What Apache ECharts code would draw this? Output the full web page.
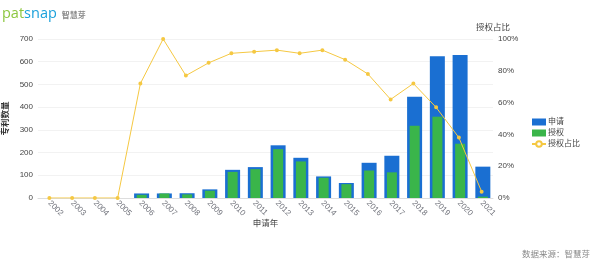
<!DOCTYPE html>
<html><head><meta charset="utf-8">
<script src="https://cdn.jsdelivr.net/npm/echarts@6/dist/echarts.min.js"></script>
<style>html,body{margin:0;padding:0;background:#fff}#c{width:600px;height:264px}</style>
</head><body><div id="c"></div>
<script>
const years = ['2002','2003','2004','2005','2006','2007','2008','2009','2010','2011','2012','2013','2014','2015','2016','2017','2018','2019','2020','2021'];
const applied = [0,0,0,0,20,20,21,38,124,136,232,177,95,66,155,186,446,624,630,138];
const granted = [0,0,0,0,14,20,16,32,115,127,215,161,89,61,121,113,318,358,239,6];
const ratio = [0,0,0,0,72,100,77,85,91,92,93,91,93,87,78,62,72,57,38,4];
const leftTicks = [0,100,200,300,400,500,600,700];
const rightTicks = [0,20,40,60,80,100];

const chart = echarts.init(document.getElementById('c'), null, {renderer:'canvas'});
const font = 'Helvetica, Arial, "Noto Sans CJK SC", sans-serif';
chart.setOption({
  animation:false,
  textStyle:{fontFamily:font},
  title:[
    {text:'{a|pat}{b|snap} {c|智慧芽}', left:-3, top:0,
     textStyle:{rich:{
       a:{color:'#8cc63f',fontSize:14.5,fontFamily:'"Open Sans", sans-serif',fontWeight:'normal'},
       b:{color:'#1ba1db',fontSize:14.5,fontFamily:'"Open Sans", sans-serif',fontWeight:'normal'},
       c:{color:'#888',fontSize:8,fontFamily:'"Noto Sans CJK SC", sans-serif',padding:[2,0,0,0]}
     }}},
    {text:'数据来源：智慧芽', right:5, bottom:1,
     textStyle:{color:'#888',fontSize:8.5,fontWeight:'normal',fontFamily:'"Noto Sans CJK SC", sans-serif'}}
  ],
  legend:{
    orient:'vertical', left:526, top:113, itemWidth:14, itemHeight:7, itemGap:3,
    textStyle:{color:'#444',fontSize:8,padding:[0,0,0,-3]},
    data:[{name:'申请',icon:'rect'},{name:'授权',icon:'rect'},{name:'授权占比'}]
  },
  grid:{left:38, right:107, top:39, bottom:66, containLabel:false, outerBoundsMode:'none'},
  xAxis:{
    type:'category', data:years, name:'申请年', nameLocation:'middle', nameGap:21, nameMoveOverlap:false,
    nameTextStyle:{color:'#444',fontSize:8.5},
    axisTick:{show:false}, axisLine:{lineStyle:{color:'#ddd'}},
    axisLabel:{rotate:-45, color:'#6e7079', fontSize:8, margin:4, interval:0}
  },
  yAxis:[
    {type:'value', min:leftTicks[0], max:leftTicks[leftTicks.length-1], interval:100,
     name:'专利数量', nameLocation:'middle', nameGap:28, nameMoveOverlap:false,
     nameTextStyle:{color:'#333',fontSize:8.5,fontWeight:'bold'},
     axisLine:{show:false}, axisTick:{show:false},
     axisLabel:{color:'#444',fontSize:8, margin:5},
     splitLine:{lineStyle:{color:'#f2f2f2'}}},
    {type:'value', min:rightTicks[0], max:rightTicks[rightTicks.length-1], interval:20,
     name:'授权占比', nameGap:7, nameTextStyle:{color:'#444',fontSize:8.5, align:'center'},
     axisLine:{show:false}, axisTick:{show:false},
     axisLabel:{color:'#444',fontSize:8, margin:5, formatter:'{value}%'},
     splitLine:{show:false}}
  ],
  series:[
    {name:'申请', type:'bar', data:applied, barWidth:15, itemStyle:{color:'#1a6fd2'}, z:2},
    {name:'授权', type:'bar', data:granted, barWidth:10, barGap:'-83%', itemStyle:{color:'#3ab54a'}, z:3},
    {name:'授权占比', type:'line', yAxisIndex:1, data:ratio, symbol:'emptyCircle', symbolSize:2,
     itemStyle:{color:'#f5c842', borderWidth:1}, lineStyle:{color:'#f5c842',width:1}, z:5}
  ]
});
</script></body></html>
